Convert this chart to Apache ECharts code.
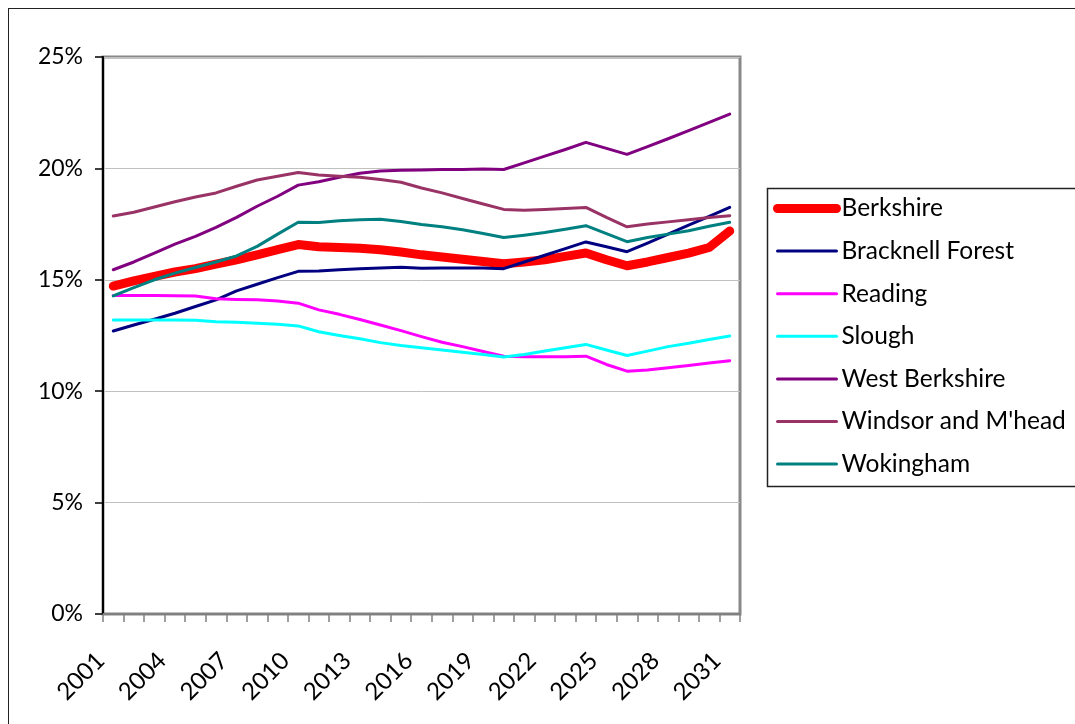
<!DOCTYPE html>
<html><head><meta charset="utf-8">
<script src="https://cdn.jsdelivr.net/npm/echarts@6/dist/echarts.min.js"></script>
<style>
html,body{margin:0;padding:0;background:#fff;overflow:hidden;}
#frame{position:absolute;left:8px;top:8px;width:1200px;height:900px;border:1.5px solid #222;box-sizing:border-box;}
#chart{position:absolute;left:0;top:0;width:1075px;height:724px;}
</style></head>
<body>
<div id="frame"></div>
<div id="chart"></div>
<script>
const years = ['2001','2002','2003','2004','2005','2006','2007','2008','2009','2010','2011','2012','2013','2014','2015','2016','2017','2018','2019','2020','2021','2022','2023','2024','2025','2026','2027','2028','2029','2030','2031'];
const yTicks = [0,5,10,15,20,25];
const berkshire = [14.72,14.95,15.15,15.35,15.5,15.7,15.9,16.12,16.35,16.58,16.48,16.45,16.42,16.35,16.25,16.12,16.02,15.92,15.82,15.72,15.8,15.9,16.05,16.2,15.9,15.63,15.8,16.0,16.2,16.45,17.19];
const bracknell = [12.7,12.97,13.23,13.5,13.8,14.1,14.5,14.8,15.1,15.38,15.4,15.45,15.5,15.53,15.56,15.52,15.53,15.53,15.53,15.5,15.8,16.1,16.4,16.7,16.48,16.26,16.65,17.05,17.45,17.85,18.25];
const reading = [14.3,14.3,14.3,14.28,14.27,14.15,14.12,14.1,14.05,13.95,13.65,13.45,13.22,12.97,12.72,12.45,12.2,12.0,11.78,11.57,11.55,11.55,11.55,11.57,11.2,10.9,10.95,11.05,11.15,11.27,11.37];
const slough = [13.2,13.2,13.2,13.2,13.18,13.12,13.1,13.05,13.0,12.93,12.67,12.5,12.35,12.18,12.05,11.95,11.85,11.75,11.65,11.53,11.65,11.8,11.95,12.1,11.85,11.6,11.8,12.0,12.15,12.32,12.48];
const westBerkshire = [15.45,15.8,16.2,16.6,16.95,17.35,17.8,18.3,18.75,19.25,19.4,19.6,19.78,19.88,19.92,19.93,19.95,19.95,19.97,19.95,20.25,20.55,20.85,21.17,20.9,20.63,20.98,21.33,21.7,22.07,22.44];
const windsor = [17.86,18.03,18.27,18.5,18.72,18.9,19.2,19.48,19.65,19.82,19.7,19.65,19.6,19.5,19.38,19.12,18.9,18.65,18.4,18.16,18.12,18.15,18.2,18.25,17.8,17.38,17.5,17.6,17.7,17.8,17.88];
const wokingham = [14.28,14.65,15.0,15.3,15.55,15.8,16.07,16.5,17.05,17.58,17.57,17.65,17.7,17.72,17.62,17.48,17.38,17.25,17.08,16.9,17.0,17.12,17.27,17.43,17.07,16.71,16.9,17.05,17.2,17.4,17.58];

const names = ['Berkshire','Bracknell Forest','Reading','Slough','West Berkshire',"Windsor and M'head",'Wokingham'];
const values = [berkshire,bracknell,reading,slough,westBerkshire,windsor,wokingham];
const colors = ['#FF0000','#000080','#FF00FF','#00FFFF','#800080','#993366','#008080'];
const widths = [9,3,3,3,3,3,3];
const FONT = 'Lato';

const chart = echarts.init(document.getElementById('chart'), null, {renderer:'canvas'});
chart.setOption({
  animation:false,
  backgroundColor:'transparent',
  grid:{left:103,right:335,top:57,bottom:110,show:true,borderColor:'#888888',borderWidth:3,backgroundColor:'transparent'},
  xAxis:{
    type:'category',data:years,boundaryGap:true,
    axisLine:{lineStyle:{color:'#808080',width:2}},
    axisTick:{show:true,interval:0,length:8,lineStyle:{color:'#808080',width:1.5}},
    axisLabel:{interval:2,rotate:45,margin:30,padding:[0,18,0,0],fontFamily:FONT,fontSize:24,color:'#000'},
    splitLine:{show:false}
  },
  yAxis:{
    type:'value',min:yTicks[0],max:yTicks[yTicks.length-1],interval:5,
    axisLine:{show:true,lineStyle:{color:'#000',width:2}},
    axisTick:{show:true,length:8,lineStyle:{color:'#000',width:1.5}},
    axisLabel:{formatter:'{value}%',margin:20,fontFamily:FONT,fontSize:23,color:'#000'},
    splitLine:{show:true,lineStyle:{color:'#C0C0C0',width:1}}
  },
  legend:{
    orient:'vertical',left:768,top:191,
    itemWidth:59,itemHeight:14,itemGap:17.6,
    textStyle:{fontFamily:FONT,fontSize:24.5,color:'#000',lineHeight:23},
    data:names.map((n,i)=>({name:n,itemStyle:{opacity:0},lineStyle:{width:widths[i],color:colors[i],cap:'round'}}))
  },
  graphic:[{type:'rect',left:765,top:186,shape:{width:320,height:298},style:{fill:'none',stroke:'#222',lineWidth:1.5},silent:true}],
  series:names.map((n,i)=>({
    name:n,type:'line',data:values[i],symbol:'none',showSymbol:false,
    lineStyle:{color:colors[i],width:widths[i],cap:'round',join:'round'},
    itemStyle:{color:colors[i]}
  }))
});
</script>
</body></html>
